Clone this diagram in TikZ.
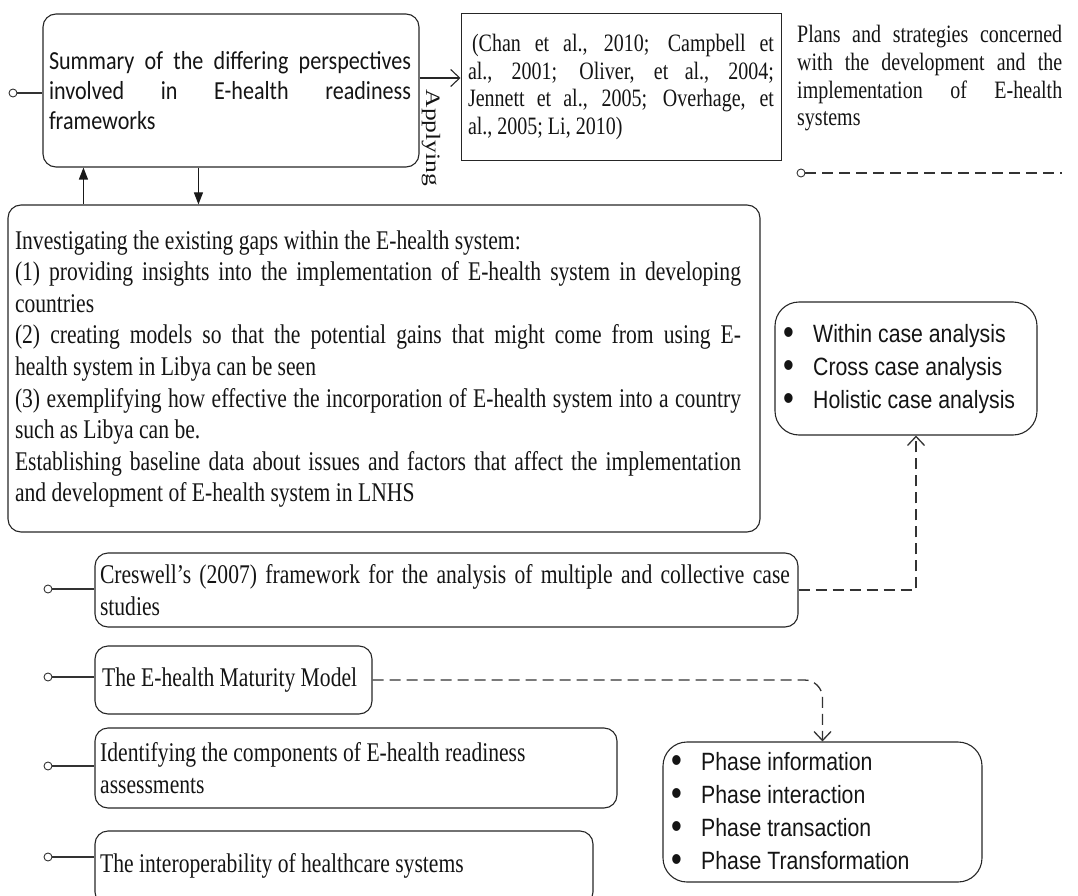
\documentclass[tikz,border=0pt]{standalone}
\usepackage{fontspec}
\usepackage{graphicx}
\setmainfont{Liberation Serif}
\newfontfamily\tmsfam{Liberation Serif}[FakeStretch=0.8]
\newfontfamily\calfam{Carlito}[FakeStretch=0.85]
\newfontfamily\arfam{Liberation Sans}[FakeStretch=0.85]
\newfontfamily\tmsplain{Liberation Serif}
\usetikzlibrary{arrows.meta,fit}
\newcommand\bul{\makebox[30pt][l]{\raisebox{-2.2pt}{\scalebox{1.45}{\textbullet}}}}
\begin{document}
\begin{tikzpicture}[x=1pt,y=-1pt,
  box/.style={draw=black!85,line width=1.1pt,rounded corners=13pt,inner sep=0pt},
  sqbox/.style={draw=black!85,line width=1pt,inner sep=0pt},
  lbox/.style={draw=black!85,line width=1.1pt,rounded corners=24pt,inner sep=0pt},
  tm/.style={font=\tmsfam\fontsize{27}{31.6}\selectfont,text=black!92,inner sep=0pt,align=justify},
  tmsm/.style={font=\tmsfam\fontsize{25}{27.8}\selectfont,text=black!92,inner sep=0pt,align=justify},
  cal/.style={font=\calfam\fontsize{26}{30}\selectfont,text=black!92,inner sep=0pt,align=justify},
  ar/.style={font=\arfam\fontsize{25}{32.8}\selectfont,text=black!92,inner sep=0pt,align=left},
  dot/.style={circle,draw=black!80,line width=0.9pt,minimum size=8pt,inner sep=0pt,fill=white},
  link/.style={draw=black!80,line width=1.2pt},
  opentip/.style={-{Straight Barb[length=9pt,width=17pt]}},
  openarrow/.style={opentip,line width=1.1pt,draw=black!85},
  solidtip/.style={-{Triangle[length=12pt,width=9pt]},line width=1.1pt,draw=black!90},
  dsh/.style={dash pattern=on 11pt off 6pt,line width=1.3pt,draw=black!80},
]
\useasboundingbox (0,0) rectangle (1078,896);

% top row
\node[box,fit={(43,14)(419,167)}] (sum) {};
\node[cal,text width=362pt] (sumtxt) at (230,91) {Summary of the differing perspectives\linebreak involved in E-health readiness\linebreak frameworks};
\node[dot] (d1) at (13,93) {};
\draw[link] (d1) -- (d1 -| sum.west);

\node[sqbox,fit={(461,14)(781,161)}] (cit) {};
\node[tmsm,text width=306pt] (cittxt) at (621,87) {\hspace*{4pt}(Chan et al., 2010; Campbell et\linebreak al., 2001; Oliver, et al., 2004;\linebreak Jennett et al., 2005; Overhage, et\linebreak al., 2005; Li, 2010)};

\draw[openarrow] ([yshift=12.5pt]sum.east) -- ([yshift=12.5pt]sum.east -| cit.west);
\node[font=\tmsplain\fontsize{25.5}{28}\selectfont,text=black!92,rotate=-90,inner sep=0pt] (apl) at (431,138) {\scalebox{1}[0.8]{Applying}};

\node[tmsm,text width=265pt,anchor=north west] (plans) at (797,25) {Plans and strategies concerned\linebreak with the development and the\linebreak implementation of E-health\linebreak systems};
\node[dot] (pc) at (801,173) {};
\coordinate (pe) at (1062,173);
\draw[dsh] (pc) -- (pe);

% big box
\node[box,fit={(8,205)(760,532)}] (big) {};
\node[tm,text width=726pt] (bigtxt) at (378,369) {Investigating the existing gaps within the E-health system:\newline
(1) providing insights into the implementation of E-health system in developing\linebreak countries\newline
(2) creating models so that the potential gains that might come from using E-\linebreak health system in Libya can be seen\newline
(3) exemplifying how effective the incorporation of E-health system into a country\linebreak such as Libya can be.\newline
Establishing baseline data about issues and factors that affect the implementation\linebreak and development of E-health system in LNHS};

\coordinate (ua) at ([xshift=41pt]sum.south west);
\coordinate (da) at ([xshift=156pt]sum.south west);
\draw[solidtip] (ua |- big.north) -- (ua);
\draw[solidtip] (da) -- (da |- big.north);

% case analysis box
\node[lbox,fit={(775,302)(1037,435)}] (cas) {};
\node[ar,anchor=west] (castxt) at (783,369) {\bul Within case analysis\\\bul Cross case analysis\\\bul Holistic case analysis};

% Creswell
\node[box,fit={(95,553)(798,627)}] (cre) {};
\node[tm,text width=690pt] (cretxt) at (445,590) {Creswell’s (2007) framework for the analysis of multiple and collective case\linebreak studies};
\node[dot] (d2) at (48,589) {};
\draw[link] (d2) -- (d2 -| cre.west);
\coordinate (ca) at ([xshift=10pt]cas.south);
\draw[dsh,opentip] (cre.east) -| (ca);

% Maturity
\node[box,fit={(95,646)(372,714)}] (mat) {};
\node[tm,anchor=west,align=left] (mattxt) at (102,680) {The E-health Maturity Model};
\node[dot] (d3) at (48,677) {};
\draw[link] (d3) -- (d3 -| mat.west);

% Phase box
\node[lbox,fit={(663,742)(982,882)}] (pha) {};
\node[ar,anchor=west] (phatxt) at (671,812) {\bul Phase information\\\bul Phase interaction\\\bul Phase transaction\\\bul Phase Transformation};
\draw[dsh,opentip,rounded corners=18pt] (mat.east) -| (pha.north);

% Identifying
\node[box,fit={(95,728)(617,808)}] (ide) {};
\node[tm,anchor=west,align=left] (idetxt) at (100,768) {Identifying the components of E-health readiness\\assessments};
\node[dot] (d4) at (48,766) {};
\draw[link] (d4) -- (d4 -| ide.west);

% Interoperability
\node[box,fit={(95,831)(593,905)}] (int) {};
\node[tm,anchor=west,align=left] (inttxt) at (100,866) {The interoperability of healthcare systems};
\node[dot] (d5) at (48,857) {};
\draw[link,line width=2pt] (d5) -- (d5 -| int.west);
\end{tikzpicture}
\end{document}
